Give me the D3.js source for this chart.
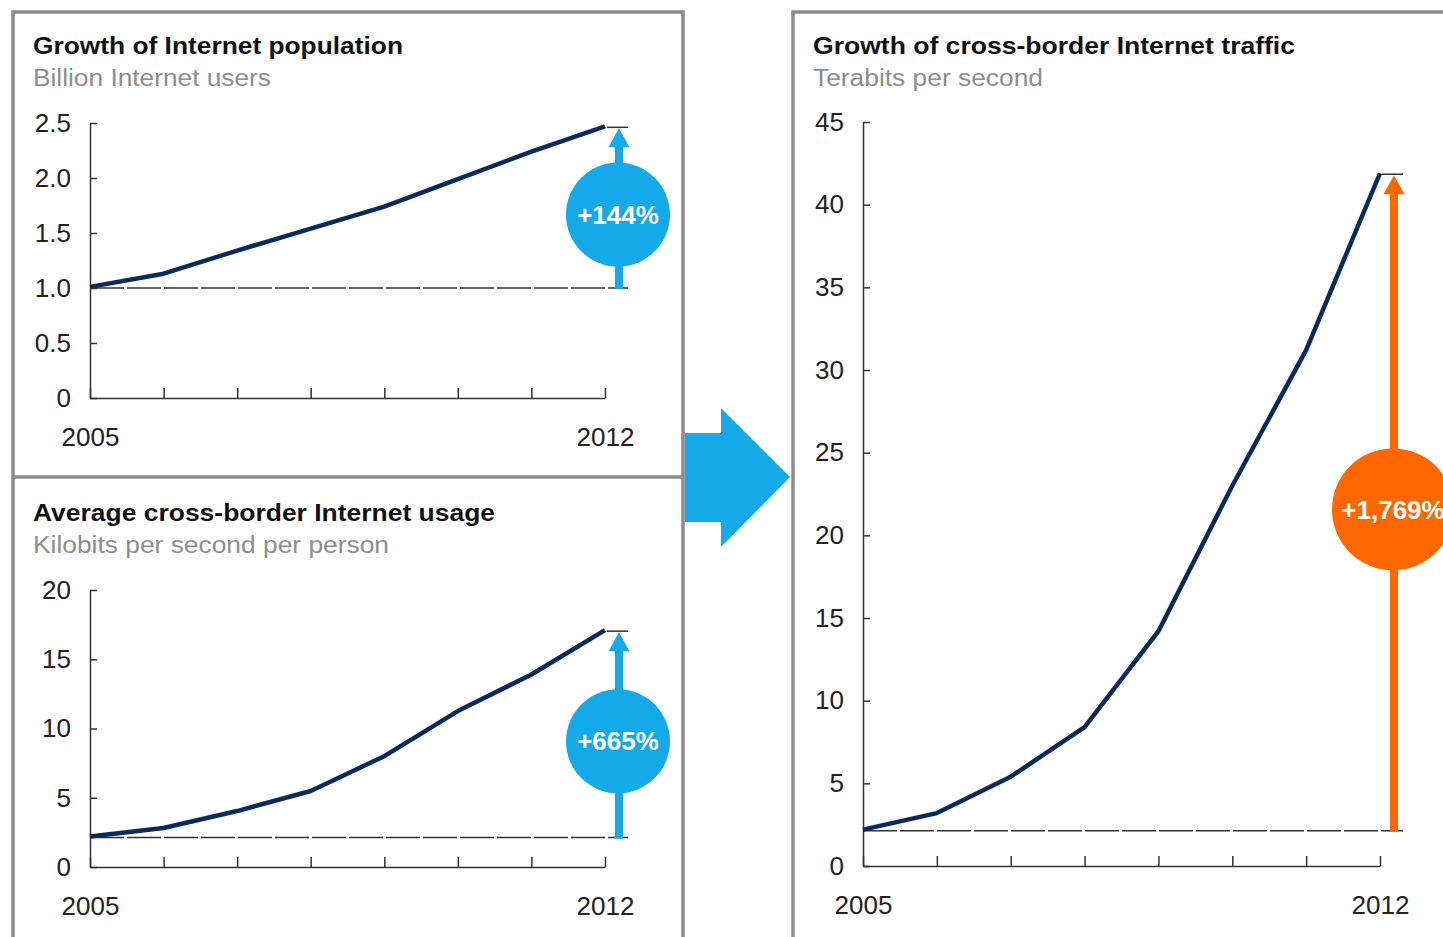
<!DOCTYPE html>
<html>
<head>
<meta charset="utf-8">
<script src="https://cdn.jsdelivr.net/npm/d3@7"></script>
<style>
  html, body { margin: 0; padding: 0; background: #fff; overflow: hidden; }
  svg { display: block; font-family: "Liberation Sans", Arial, sans-serif; }
</style>
</head>
<body>
<svg id="chart" width="1443" height="937"></svg>
<script>
// ---------- data ----------
const years = [2005, 2006, 2007, 2008, 2009, 2010, 2011, 2012];
const xTickLabels = ["2005", "2012"];

const usersBillion = [1.01, 1.13, 1.34, 1.54, 1.74, 1.99, 2.24, 2.47];
const usersTicks = [0, 0.5, 1.0, 1.5, 2.0, 2.5];
const usersTickLabels = ["0", "0.5", "1.0", "1.5", "2.0", "2.5"];

const usageKbps = [2.2, 2.82, 4.04, 5.49, 8.0, 11.26, 13.9, 17.1];
const usageTicks = [0, 5, 10, 15, 20];
const usageTickLabels = ["0", "5", "10", "15", "20"];

const trafficTbps = [2.2, 3.2, 5.4, 8.4, 14.2, 23.0, 31.2, 41.9];
const trafficTicks = [0, 5, 10, 15, 20, 25, 30, 35, 40, 45];
const trafficTickLabels = ["0", "5", "10", "15", "20", "25", "30", "35", "40", "45"];

const titles = ["Growth of Internet population", "Average cross-border Internet usage", "Growth of cross-border Internet traffic"];
const subtitles = ["Billion Internet users", "Kilobits per second per person", "Terabits per second"];
const growthLabels = ["+144%", "+665%", "+1,769%"];

// ---------- styles ----------
const NAVY = "#0b2a5c", BLUE = "#14a9e8", ORANGE = "#ff6700", BORDER = "#8c8c8c", AXIS = "#333";

const svg = d3.select("#chart");

// panel frames
svg.append("rect").attr("x", 13).attr("y", 12).attr("width", 670).attr("height", 960)
  .attr("fill", "none").attr("stroke", BORDER).attr("stroke-width", 3.5);
svg.append("line").attr("x1", 13).attr("x2", 683).attr("y1", 477).attr("y2", 477)
  .attr("stroke", BORDER).attr("stroke-width", 3.5);
svg.append("rect").attr("x", 793).attr("y", 12).attr("width", 700).attr("height", 960)
  .attr("fill", "none").attr("stroke", BORDER).attr("stroke-width", 3.5);

// big connecting arrow
svg.append("path")
  .attr("d", "M685,433 L721,433 L721,408 L790,477 L721,547 L721,522 L685,522 Z")
  .attr("fill", BLUE);

const panels = [
  { values: usersBillion, ticks: usersTicks, tickLabels: usersTickLabels, domain: [0, 2.5],
    x0: 90, x1: 605, yTop: 123, yBot: 398, tx: 33, ty: 54, tw: 370, sw: 238,
    color: BLUE, r: 52, label: growthLabels[0], title: titles[0], sub: subtitles[0] },
  { values: usageKbps, ticks: usageTicks, tickLabels: usageTickLabels, domain: [0, 20],
    x0: 90, x1: 605, yTop: 590, yBot: 867, tx: 33, ty: 521, tw: 462, sw: 356,
    color: BLUE, r: 52, label: growthLabels[1], title: titles[1], sub: subtitles[1] },
  { values: trafficTbps, ticks: trafficTicks, tickLabels: trafficTickLabels, domain: [0, 45],
    x0: 863, x1: 1380, yTop: 122, yBot: 866, tx: 813, ty: 54, tw: 482, sw: 230,
    color: ORANGE, r: 61, label: growthLabels[2], title: titles[2], sub: subtitles[2] }
];

panels.forEach(p => {
  const g = svg.append("g");

  g.append("text").attr("x", p.tx).attr("y", p.ty).text(p.title)
    .attr("font-size", 23).attr("font-weight", "bold").attr("fill", "#111")
    .attr("textLength", p.tw).attr("lengthAdjust", "spacingAndGlyphs");
  g.append("text").attr("x", p.tx).attr("y", p.ty + 32).text(p.sub)
    .attr("font-size", 23).attr("fill", "#8e8e8e")
    .attr("textLength", p.sw).attr("lengthAdjust", "spacingAndGlyphs");

  const x = d3.scaleLinear().domain([years[0], years[years.length - 1]]).range([p.x0, p.x1]);
  const y = d3.scaleLinear().domain(p.domain).range([p.yBot, p.yTop]);

  // y axis
  const ya = g.append("g").attr("transform", `translate(${p.x0},0)`)
    .call(d3.axisLeft(y).tickValues(p.ticks).tickSize(-7).tickSizeOuter(0).tickPadding(19)
      .tickFormat((d, i) => p.tickLabels[i]));
  // x axis
  const xa = g.append("g").attr("transform", `translate(0,${p.yBot})`)
    .call(d3.axisBottom(x).tickValues(years).tickSize(-10).tickSizeOuter(0).tickPadding(30)
      .tickFormat(d => xTickLabels.includes(String(d)) ? String(d) : ""));
  [ya, xa].forEach(a => {
    a.selectAll("path, line").attr("stroke", AXIS).attr("stroke-width", 1.5);
    a.selectAll("text").attr("font-size", 26).attr("fill", "#222")
      .attr("font-family", "'Liberation Sans', Arial, sans-serif");
  });

  const v0 = p.values[0], vN = p.values[p.values.length - 1];
  const xEnd = x(years[years.length - 1]);
  const ax = xEnd + 14;

  // dashed baseline and top reference line
  g.append("line").attr("x1", p.x0).attr("x2", xEnd + 23).attr("y1", y(v0) + 1).attr("y2", y(v0) + 1)
    .attr("stroke", AXIS).attr("stroke-width", 1.5).attr("stroke-dasharray", "34 3");
  g.append("line").attr("x1", xEnd + 2).attr("x2", xEnd + 23).attr("y1", y(vN) + 1).attr("y2", y(vN) + 1)
    .attr("stroke", AXIS).attr("stroke-width", 1.5);

  // data line
  g.append("path").datum(p.values)
    .attr("d", d3.line().x((d, i) => x(years[i])).y(d => y(d)))
    .attr("fill", "none").attr("stroke", NAVY).attr("stroke-width", 4.5).attr("stroke-linejoin", "round");

  // growth arrow
  const yb = y(v0) + 2, yt = y(vN) + 2, headH = 19, headW = 21;
  g.append("rect").attr("x", ax - 4).attr("y", yt + headH - 1).attr("width", 8).attr("height", yb - yt - headH + 1)
    .attr("fill", p.color);
  g.append("path")
    .attr("d", `M${ax},${yt} L${ax + headW / 2},${yt + headH} L${ax - headW / 2},${yt + headH} Z`)
    .attr("fill", p.color);

  const cy = (yb + yt) / 2 + 6;
  g.append("circle").attr("cx", ax - 1).attr("cy", cy).attr("r", p.r).attr("fill", p.color);
  g.append("text").attr("x", ax - 1).attr("y", cy).attr("dy", "0.35em").attr("text-anchor", "middle")
    .attr("font-size", 26).attr("font-weight", "bold").attr("fill", "#fff").text(p.label);
});
</script>
</body>
</html>
